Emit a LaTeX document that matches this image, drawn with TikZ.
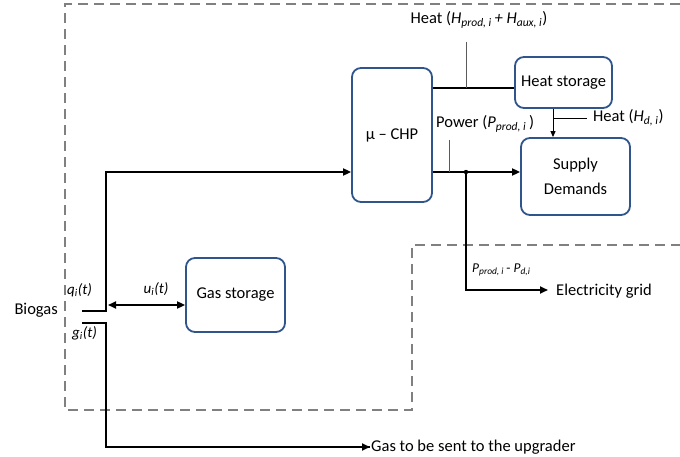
\documentclass[tikz,border=0pt]{standalone}
\usepackage{fontspec}
\setmainfont{Carlito}
\usetikzlibrary{positioning,arrows.meta}
\definecolor{boxblue}{RGB}{47,85,140}
\definecolor{dashgray}{RGB}{128,128,128}
\definecolor{tickgray}{RGB}{90,90,90}
\newcommand{\vsub}[2]{\textit{#1}\textsubscript{\textit{#2}}}

\begin{document}
\begin{tikzpicture}[x=1pt,y=-1pt,
  font=\fontsize{16.5}{19}\selectfont,
  blk/.style={draw=boxblue,line width=1.8pt,rounded corners=9pt,align=center,inner sep=0pt},
  flow/.style={line width=1.8pt,-{Triangle[length=8pt,width=7pt]}},
  pipe/.style={line width=1.8pt},
  tick/.style={tickgray,line width=0.9pt},
  lbl/.style={inner sep=1pt}]
      \useasboundingbox (0,0) rectangle (680,457);

      % system boundary
      \draw[dashgray,line width=2.4pt,dash pattern=on 10pt off 6pt]
        (680,4) -- (65,4) -- (65,410) -- (412,410) -- (412,245) -- (680,245);

      % blocks
      \node[blk,minimum width=80pt,minimum height=134pt] (chp) at (392,135) {µ – CHP};
      \node[blk,minimum width=97pt,minimum height=51pt] (hs) at (563.5,82.5) {Heat storage};
      \node[blk,minimum width=109pt,minimum height=77pt] (sd) at (575.5,176.5) {Supply\\[6pt]Demands};
      \node[blk,minimum width=99pt,minimum height=74pt] (gs) at (235.5,295) {Gas storage};

      % biogas side
      \coordinate (qin) at (82,311);
      \coordinate (qtop) at (106,172);
      \coordinate (gin) at (82,323);
      \coordinate (gbot) at (106,447);
      \coordinate (uin) at (108,305);
      \coordinate (upg) at (370,447);

      \draw[flow] (qin) -| (qtop) -- (qtop -| chp.west);
      \draw[pipe] (gin) -| (gbot) -- (upg);
      \draw[flow] (gbot) -- (upg);
      \draw[line width=1.8pt,{Triangle[length=8pt,width=7pt]}-{Triangle[length=8pt,width=7pt]}] (uin) -- (uin -| gs.west);

      \node[lbl,anchor=east] (bio) at (59,310) {Biogas};
      \node[lbl,anchor=west,font=\fontsize{15}{17}\selectfont] (ql) at (66,290) {\vsub{q}{i}\textit{(t)}};
      \node[lbl,anchor=west,font=\fontsize{15}{17}\selectfont] (gl) at (71,333) {\vsub{g}{i}\textit{(t)}};
      \node[lbl,font=\fontsize{15}{17}\selectfont] (ul) at (156,289) {\vsub{u}{i}\textit{(t)}};
      \node[lbl,anchor=west] (upgl) at (upg) {Gas to be sent to the upgrader};

      % heat and power outputs
      \coordinate (hline) at (466,88);
      \coordinate (htop) at (466,42);
      \coordinate (pline) at (449,172);
      \coordinate (ptop) at (449,140);
      \coordinate (split) at (466,172);
      \coordinate (gridc) at (466,290);
      \coordinate (grid) at (548,290);
      \coordinate (hd) at (553,118);
      \coordinate (hdr) at (587,118);

      \draw[pipe] (chp.east |- hline) -- (hs.west |- hline);
      \draw[tick] (htop) -- (hline);
      \draw[flow] (chp.east |- split) -- (sd.west |- split);
      \draw[tick] (ptop) -- (pline);
      \fill (split) circle (2.2pt);
      \draw[flow] (split) -- (gridc) -- (grid);
      \draw[line width=1pt,-{Triangle[length=6pt,width=5pt]}] (hs.south -| hd) -- (sd.north -| hd);
      \draw[line width=0.9pt] (hd) -- (hdr);

      \node[lbl] (heatl) at (479,20) {Heat (\vsub{H}{prod, i}\,\textit{+ }\vsub{H}{aux, i})};
      \node[lbl,anchor=west] (powl) at (435,124) {Power (\vsub{P}{prod, i}\,)};
      \node[lbl,anchor=west] (hdl) at (592,118) {Heat (\vsub{H}{d, i})};
      \node[lbl,anchor=west,font=\fontsize{13.5}{15}\selectfont] (diffl) at (471,270) {\vsub{P}{prod, i}\,- \vsub{P}{d,i}};
      \node[lbl,anchor=west] (gridl) at (555,291) {Electricity grid};
\end{tikzpicture}
\end{document}
